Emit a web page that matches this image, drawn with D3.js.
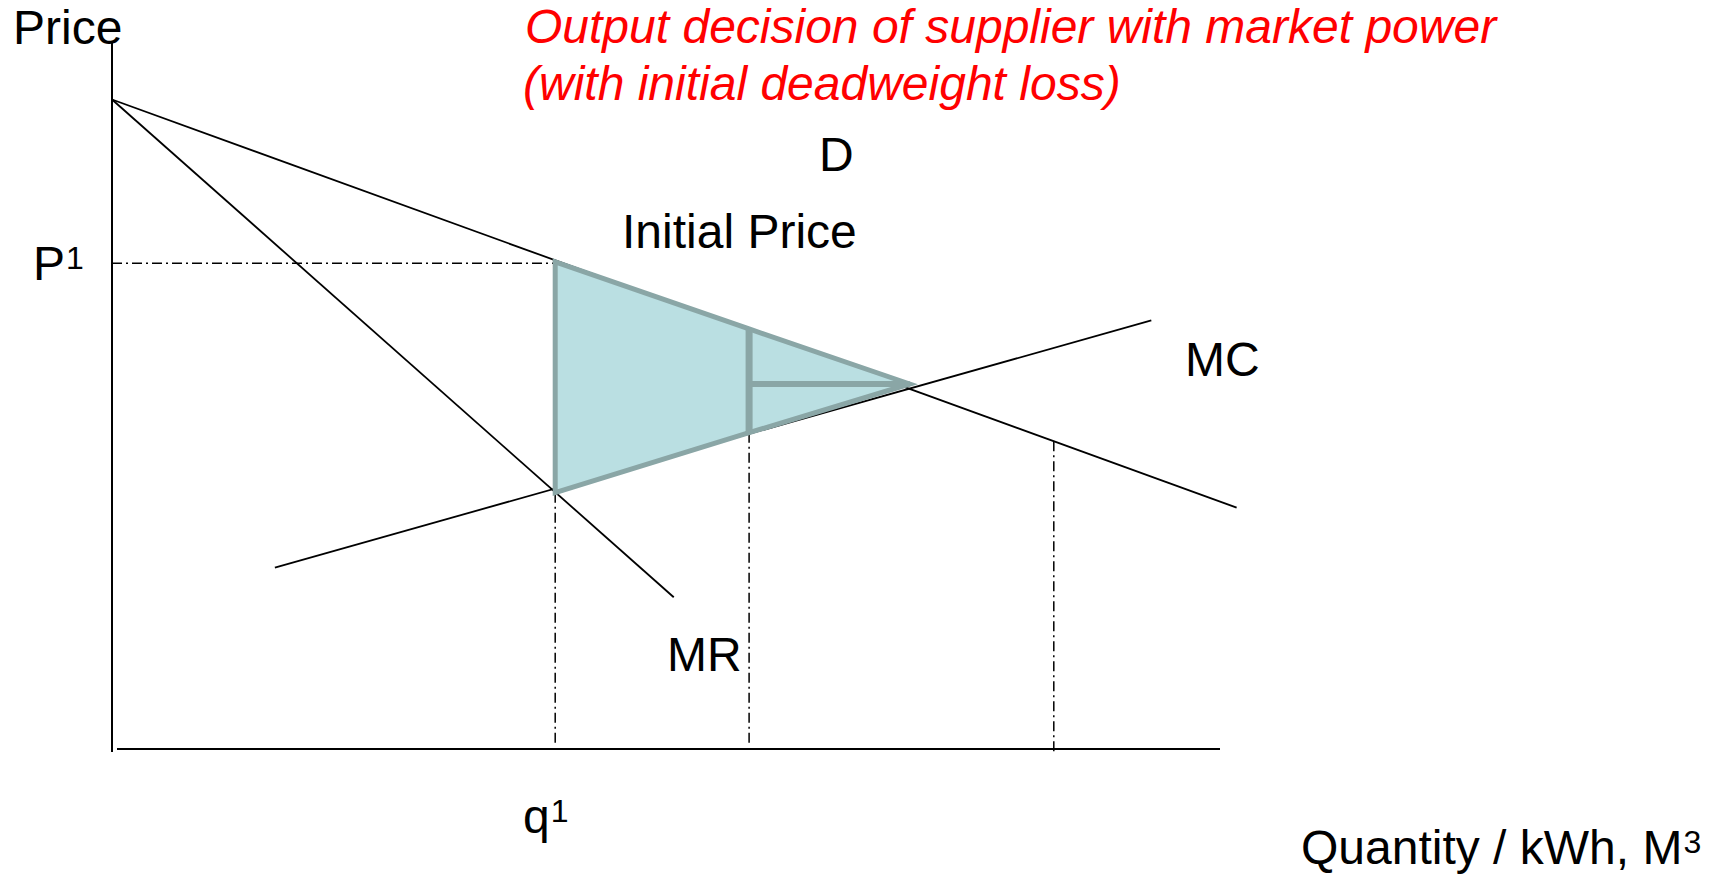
<!DOCTYPE html>
<html>
<head>
<meta charset="utf-8">
<script src="https://cdn.jsdelivr.net/npm/d3@7"></script>
<style>
    html, body { margin: 0; padding: 0; background: #ffffff; }
    svg text { font-family: "Liberation Sans", Arial, sans-serif; }
</style>
</head>
<body>
<div id="chart"></div>
<script>
// --- Data (quantity 0..100, price 0..100) ---
const demandPts = [[0, 92], [101.5, 34.2]];
const mrPts = [[0, 92], [50.7, 21.5]];
const mcPts = [[14.7, 25.7], [93.8, 60.7]];

const q1 = 40;          // monopoly output
const qMid = 57.5;      // intermediate output
const qStar = 72;       // D = MC
const qComp = 85;       // far right reference
const p1 = 68.8;        // initial price

// deadweight loss area: top-left, mid-top, tip, mid-bottom, bottom-left
const dwlPts = [[q1, 69.0], [qMid, 59.5], [qStar, 51.7], [qMid, 44.8], [q1, 36.3]];
const innerLines = [
    [[qMid, 59.5], [qMid, 44.8]],
    [[qMid, 51.7], [qStar, 51.7]]
];
// dash-dot drop lines [q, price where it starts]
const dropLines = [[q1, 36.3], [qMid, 44.8], [qComp, 43.6]];

const width = 1718;
const height = 875;

const svg = d3.select("#chart").append("svg")
    .attr("width", width)
    .attr("height", height);

// --- Scales ---
const x = d3.scaleLinear().domain([0, 100]).range([112, 1220]);
const y = d3.scaleLinear().domain([0, 100]).range([749, 43]);

const line = d3.line().x(d => x(d[0])).y(d => y(d[1]));
const dashDot = "10,4,2,4";

// --- Axes (plain lines, no ticks) ---
svg.append("line")
    .attr("x1", x(0)).attr("x2", x(0))
    .attr("y1", y(100)).attr("y2", y(0) + 3)
    .attr("stroke", "#000").attr("stroke-width", 2);

svg.append("line")
    .attr("x1", x(0) + 5).attr("x2", x(100))
    .attr("y1", y(0)).attr("y2", y(0))
    .attr("stroke", "#000").attr("stroke-width", 2.2);

// --- Dash-dot guides ---
svg.append("line")
    .attr("x1", x(0)).attr("x2", x(q1))
    .attr("y1", y(p1)).attr("y2", y(p1))
    .attr("stroke", "#000").attr("stroke-width", 1.5)
    .attr("stroke-dasharray", dashDot);

svg.selectAll("line.drop")
    .data(dropLines)
    .enter()
    .append("line")
    .attr("class", "drop")
    .attr("x1", d => x(d[0])).attr("x2", d => x(d[0]))
    .attr("y1", d => y(d[1])).attr("y2", (d, i) => i === 2 ? y(0) + 4 : y(0) - 5)
    .attr("stroke", "#000").attr("stroke-width", 1.5)
    .attr("stroke-dasharray", dashDot);

// --- Curves ---
[demandPts, mrPts, mcPts].forEach(pts => {
    svg.append("path")
        .attr("d", line(pts))
        .attr("fill", "none")
        .attr("stroke", "#000")
        .attr("stroke-width", 1.8);
});

// --- Deadweight loss area ---
svg.append("path")
    .attr("d", line(dwlPts) + "Z")
    .attr("fill", "#badfe2")
    .attr("stroke", "#8aa6a6")
    .attr("stroke-width", 5)
    .attr("stroke-linejoin", "miter");

svg.selectAll("path.inner")
    .data(innerLines)
    .enter()
    .append("path")
    .attr("class", "inner")
    .attr("d", d => line(d))
    .attr("stroke", "#8aa6a6")
    .attr("stroke-width", (d, i) => i === 0 ? 7 : 6)
    .attr("fill", "none");

// --- Labels ---
const fs = 48;

function label(tx, ty, txt, sup, opts = {}) {
    const t = svg.append("text")
        .attr("x", tx)
        .attr("y", ty)
        .attr("font-size", opts.size || fs)
        .attr("fill", opts.color || "#000")
        .attr("font-style", opts.italic ? "italic" : null)
        .text(txt);
    if (sup) {
        t.append("tspan")
            .attr("font-size", 32)
            .attr("dx", 1)
            .attr("dy", -11)
            .text(sup);
    }
    return t;
}

label(13, 44, "Price");
label(33, 280, "P", "1");
label(523, 833, "q", "1");
label(667, 671, "MR");
label(1185, 376, "MC");
label(819, 171, "D");
label(622, 248, "Initial Price");
label(1301, 864, "Quantity / kWh, M", "3");

label(525, 43, "Output decision of supplier with market power", null, {color: "#ff0000", italic: true, size: 48});
label(523, 100, "(with initial deadweight loss)", null, {color: "#ff0000", italic: true, size: 48});
</script>
</body>
</html>
